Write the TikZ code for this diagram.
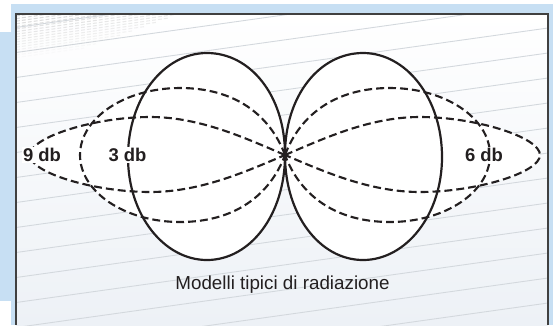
\documentclass[tikz,border=0pt]{standalone}
\usepackage{fontspec}
\setmainfont{Liberation Sans}
\definecolor{bgblue}{HTML}{C7DFF3}
\definecolor{panelgray}{HTML}{EDF1F6}
\definecolor{faintgray}{HTML}{D3D8DD}
\definecolor{inkblack}{HTML}{231F20}
\tikzset{
  faintline/.style={faintgray, line width=0.5pt},
  halftone/.style={gray!45, line width=0.6pt, dash pattern=on 2.2pt off 1.2pt},
  lobeline/.style={inkblack, line width=1.25pt},
  lobedash/.style={inkblack, line width=1.2pt, dash pattern=on 4.5pt off 2.3pt},
  dblabel/.style={fill=white, inner sep=0.6pt, text=inkblack, font=\fontsize{10.5}{12}\selectfont\bfseries}
}
\newcommand\lobesolid{(0,0) .. controls (0,-60) and (-35,-102) .. (-78,-102)
  .. controls (-121,-102) and (-157,-57) .. (-157,2)
  .. controls (-157,60) and (-121,105) .. (-78,105)
  .. controls (-35,105) and (0,60) .. (0,0)}
\newcommand\lobeouter{(0,0) .. controls (-40,-17) and (-85,-38) .. (-135,-38)
  .. controls (-190,-38) and (-255,-18) .. (-255,0)
  .. controls (-255,18) and (-190,37) .. (-135,37)
  .. controls (-85,37) and (-40,17) .. (0,0)}
\newcommand\lobeinner{(0,0) .. controls (-15,-40) and (-50,-67) .. (-105,-67)
  .. controls (-160,-67) and (-205,-37) .. (-205,0)
  .. controls (-205,37) and (-160,67) .. (-105,67)
  .. controls (-50,67) and (-15,40) .. (0,0)}
\begin{document}
\begin{tikzpicture}[x=0.02cm,y=-0.02cm]
\useasboundingbox (0,0) rectangle (553,325);
\fill[bgblue] (11,4) rectangle (553,325);
\fill[bgblue] (0,32) rectangle (11,301);
\fill[top color=white, bottom color=panelgray] (16,14) rectangle (548,325);

\begin{scope}
\clip (16,14) rectangle (548,325);
\foreach \k in {0,...,16}
  \draw[faintline] (16,2.5+25*\k) -- ++(532,-74.5);
\foreach \i [evaluate=\i as \op using {0.7-0.04*\i}] in {0,...,16}
  \draw[halftone, opacity=\op] (16,16+2.6*\i) -- ++({260-12*\i},{-0.14*(260-12*\i)});
\end{scope}
\draw[black!75, line width=0.9pt] (16,325) -- (16,14) -- (548,14) -- (548,325);

\begin{scope}[shift={(285,155)}]
\foreach \s in {1,-1}{
  \begin{scope}[xscale=\s]
  \fill[white] \lobesolid;
  \fill[white] \lobeouter;
  \fill[white] \lobeinner;
  \end{scope}
}
\foreach \s in {1,-1}{
  \begin{scope}[xscale=\s]
  \draw[lobedash] \lobeouter;
  \draw[lobedash] \lobeinner;
  \draw[lobeline] \lobesolid;
  \end{scope}
}
\end{scope}

\node[dblabel] (nine) at (42,155) {9 db};
\node[dblabel] (three) at (127.5,155) {3 db};
\node[dblabel] (six) at (484,155) {6 db};
\node[text=inkblack, font=\fontsize{10.7}{12}\selectfont] (caption) at (282.5,285) {Modelli tipici di radiazione};
\end{tikzpicture}
\end{document}
